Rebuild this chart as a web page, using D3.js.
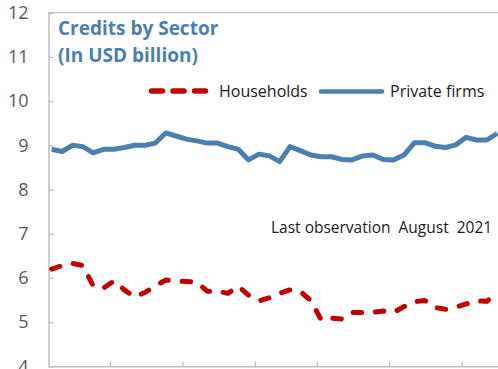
<!DOCTYPE html>
<html>
<head>
<meta charset="utf-8">
<script src="https://cdn.jsdelivr.net/npm/d3@7/dist/d3.min.js"></script>
<style>
  html, body { margin: 0; padding: 0; background: #fff; }
  svg { display: block; }
  text { font-family: "Open Sans", "Noto Sans", sans-serif; }
</style>
</head>
<body>
<svg id="chart" width="498" height="369"></svg>
<script>
// Monthly credit stock, January 2018 – August 2021 (USD billion)
const months = d3.timeMonths(new Date(2018, 0, 1), new Date(2021, 8, 1)).map(d3.timeFormat("%b %Y"));

const households = [
  6.20, 6.28, 6.33, 6.28, 5.82, 5.77, 5.93, 5.73, 5.57, 5.67,
  5.82, 5.95, 5.93, 5.92, 5.90, 5.70, 5.70, 5.65, 5.81, 5.61,
  5.48, 5.55, 5.65, 5.73, 5.69, 5.49, 5.05, 5.09, 5.07, 5.22,
  5.22, 5.22, 5.25, 5.22, 5.35, 5.46, 5.49, 5.33, 5.29, 5.34,
  5.41, 5.48, 5.47, 5.68
];

const privateFirms = [
  8.91, 8.86, 9.00, 8.97, 8.83, 8.91, 8.91, 8.95, 9.00, 9.00,
  9.05, 9.28, 9.21, 9.14, 9.10, 9.05, 9.05, 8.97, 8.91, 8.67,
  8.80, 8.76, 8.63, 8.97, 8.88, 8.78, 8.74, 8.74, 8.68, 8.67,
  8.76, 8.78, 8.68, 8.67, 8.78, 9.06, 9.06, 8.98, 8.95, 9.01,
  9.18, 9.12, 9.12, 9.27
];

// Category-axis tick marks, in month-index units
const xTicks = [5.63, 12.61, 19.62, 25.58, 32.56, 39.58];
const yTicks = [4, 5, 6, 7, 8, 9, 10, 11, 12];

const titleLines = ["Credits by Sector", "(In USD billion)"];
const seriesNames = ["Households", "Private firms"];
const note = "Last observation  August  2021";

const blue = "#4A7FB0";
const red = "#C00000";
const axisGrey = "#BFBFBF";

const svg = d3.select("#chart");

const x = d3.scaleLinear().domain([-0.31, 43.1]).range([48.5, 498.3]);
const y = d3.scaleLinear().domain([4, 12]).range([366.3, 12.7]);

// Plot frame: top edge
svg.append("line")
  .attr("x1", x.range()[0]).attr("x2", 498)
  .attr("y1", y(12)).attr("y2", y(12))
  .attr("stroke", axisGrey).attr("stroke-width", 1.3);

// Y axis
const yAxis = svg.append("g")
  .attr("transform", `translate(${x.range()[0]},0)`)
  .call(d3.axisLeft(y).tickValues(yTicks).tickSize(-5).tickPadding(20).tickFormat(d3.format("d")));
yAxis.select(".domain").attr("stroke", axisGrey).attr("stroke-width", 1.5);
yAxis.selectAll(".tick line").attr("stroke", axisGrey).attr("stroke-width", 1.3);
yAxis.selectAll(".tick text")
  .attr("fill", "#595959")
  .style("font-size", "18px")
  .style("font-family", "'Open Sans', sans-serif");

// X axis (tick marks only)
const xAxis = svg.append("g")
  .attr("transform", `translate(0,${y(4)})`)
  .call(d3.axisBottom(x).tickValues(xTicks).tickSize(-5).tickSizeOuter(0).tickFormat(""));
xAxis.select(".domain").attr("stroke", axisGrey).attr("stroke-width", 1.5);
xAxis.selectAll(".tick line").attr("stroke", axisGrey).attr("stroke-width", 1.3);

const line = d3.line().x((d, i) => x(i)).y(d => y(d));

svg.append("path")
  .datum(privateFirms)
  .attr("d", line)
  .attr("fill", "none")
  .attr("stroke", blue)
  .attr("stroke-width", 5)
  .attr("stroke-linejoin", "round");

svg.append("path")
  .datum(households)
  .attr("d", line)
  .attr("fill", "none")
  .attr("stroke", red)
  .attr("stroke-width", 5)
  .attr("stroke-linecap", "round")
  .attr("stroke-linejoin", "round")
  .attr("stroke-dasharray", "8.5,13.8");

// Title
svg.append("text")
  .attr("x", 58).attr("y", 35)
  .attr("fill", blue)
  .style("font-weight", "bold")
  .style("font-size", "19px")
  .selectAll("tspan")
  .data(titleLines)
  .join("tspan")
  .attr("x", 58)
  .attr("dy", (d, i) => i === 0 ? 0 : 27)
  .text(d => d);

// Legend
const legend = svg.append("g");
legend.append("line")
  .attr("x1", 151.5).attr("x2", 206).attr("y1", 91).attr("y2", 91)
  .attr("stroke", red).attr("stroke-width", 5.5)
  .attr("stroke-linecap", "round")
  .attr("stroke-dasharray", "11,10.5");
legend.append("text")
  .attr("x", 219).attr("y", 97)
  .attr("fill", "#1a1a1a")
  .style("font-size", "16px")
  .text(seriesNames[0]);
legend.append("line")
  .attr("x1", 321).attr("x2", 382).attr("y1", 91.5).attr("y2", 91.5)
  .attr("stroke", blue).attr("stroke-width", 4.5)
  .attr("stroke-linecap", "round");
legend.append("text")
  .attr("x", 390).attr("y", 97)
  .attr("fill", "#1a1a1a")
  .style("font-size", "16px")
  .text(seriesNames[1]);

// Note
svg.append("text")
  .attr("x", 271).attr("y", 233)
  .attr("fill", "#1a1a1a")
  .style("font-size", "15.5px")
  .style("white-space", "pre")
  .text(note);
</script>
</body>
</html>
